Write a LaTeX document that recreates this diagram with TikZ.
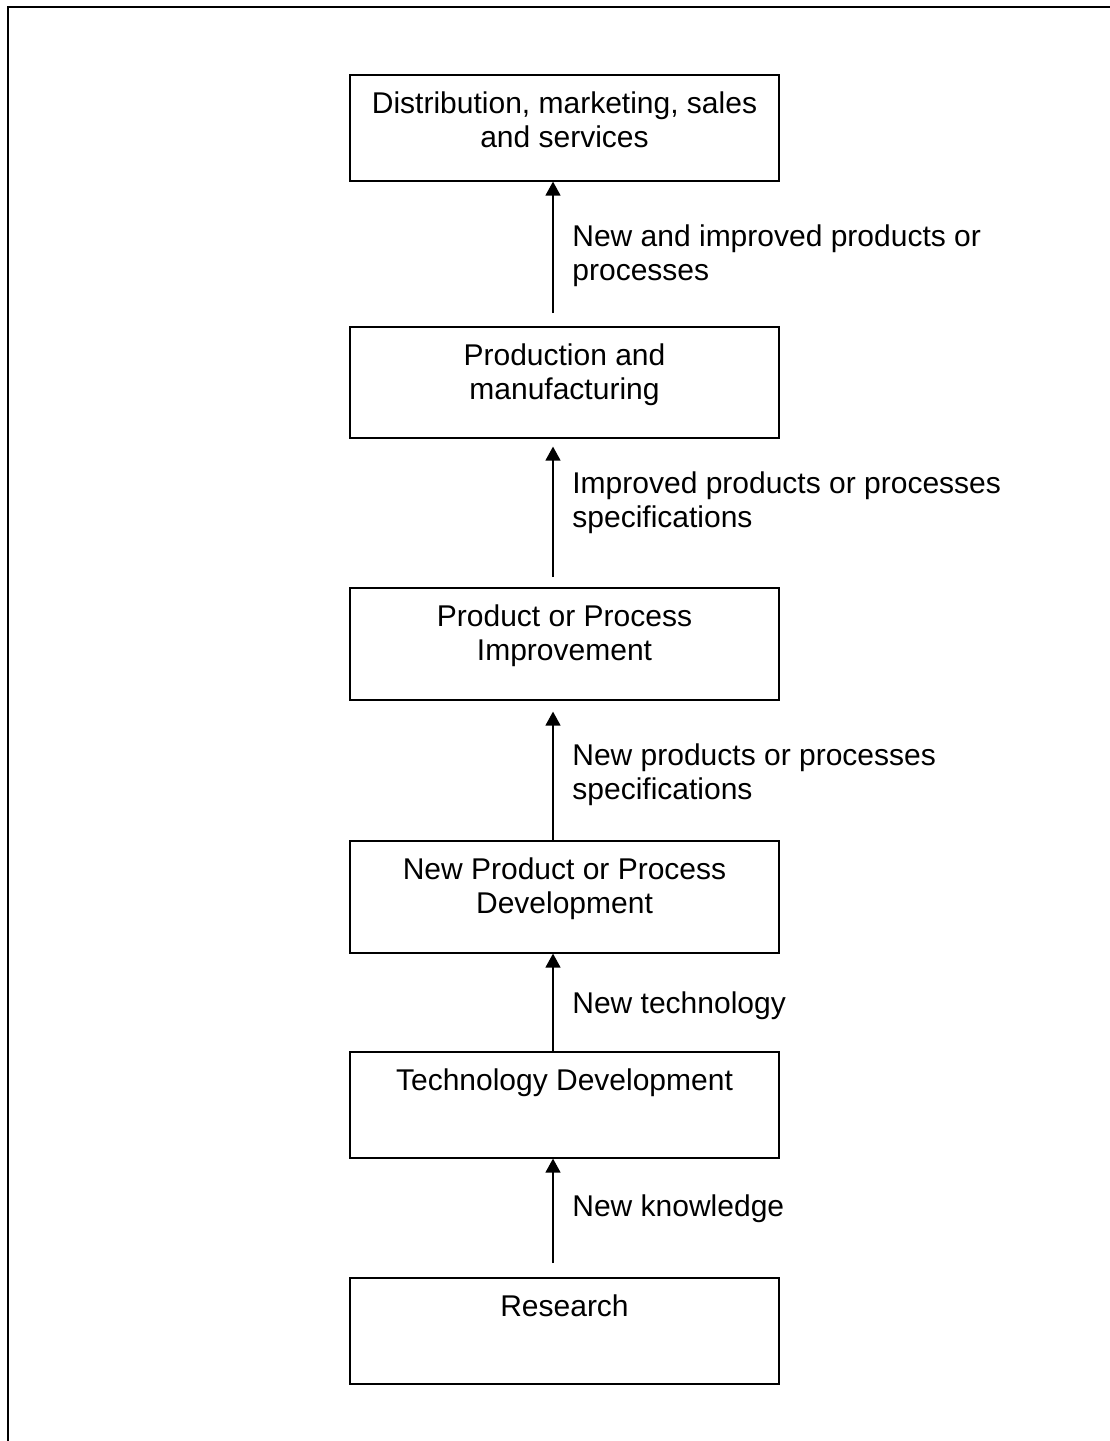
\documentclass[tikz,border=0pt]{standalone}
\usepackage{fontspec}
\setmainfont{Liberation Sans}
\usetikzlibrary{arrows.meta}

% body of a stage box: text hangs from the top edge
\newcommand{\stagebody}[2]{\parbox[b][#1][t]{210pt}{\centering\rule{0pt}{19.5pt}#2}}
% connector label: first baseline is the node's base
\newcommand{\notebody}[1]{\parbox[t]{260pt}{\raggedright #1}}

\begin{document}
\begin{tikzpicture}[x=0.5pt,y=-0.5pt,
  stage/.style={draw, line width=0.8pt, inner sep=0pt, minimum width=214.5pt,
    anchor=north, font=\fontsize{15}{17}\selectfont},
  flow/.style={-{Triangle[width=7.5pt,length=7pt]}, line width=0.7pt},
  note/.style={anchor=base west, inner sep=0pt, font=\fontsize{15}{17}\selectfont}]

\useasboundingbox (0,0) rectangle (1109,1441);

% page frame (top and left edges)
\draw[line width=1pt] (1130,7) -- (7.5,7) -- (7.5,1460);

% stages, top to bottom
\node[stage] (D) at (564.5,74)   {\stagebody{53pt}{Distribution, marketing, sales\\and services}};
\node[stage] (P) at (564.5,326)  {\stagebody{55.5pt}{Production and\\manufacturing}};
\node[stage] (I) at (564.5,587)  {\stagebody{56pt}{Product or Process\\Improvement}};
\node[stage] (N) at (564.5,840)  {\stagebody{56pt}{New Product or Process\\Development}};
\node[stage] (T) at (564.5,1051) {\stagebody{53pt}{Technology Development}};
\node[stage] (R) at (564.5,1277) {\stagebody{53pt}{Research}};

% x position shared by the connectors
\coordinate (ax) at (553,0);

\draw[flow, shorten <=6.5pt] (P.north -| ax) -- (D.south -| ax);
\draw[flow, shorten <=5pt, shorten >=4pt] (I.north -| ax) -- (P.south -| ax);
\draw[flow, shorten >=5.5pt] (N.north -| ax) -- (I.south -| ax);
\draw[flow] (T.north -| ax) -- (N.south -| ax);
\draw[flow, shorten <=7pt] (R.north -| ax) -- (T.south -| ax);

% connector labels
\node[note] (l1) at (572,246)  {\notebody{New and improved products or\\processes}};
\node[note] (l2) at (572,493)  {\notebody{Improved products or processes\\specifications}};
\node[note] (l3) at (572,765)  {\notebody{New products or processes\\specifications}};
\node[note] (l4) at (572,1013) {\notebody{New technology}};
\node[note] (l5) at (572,1216) {\notebody{New knowledge}};

\end{tikzpicture}
\end{document}
